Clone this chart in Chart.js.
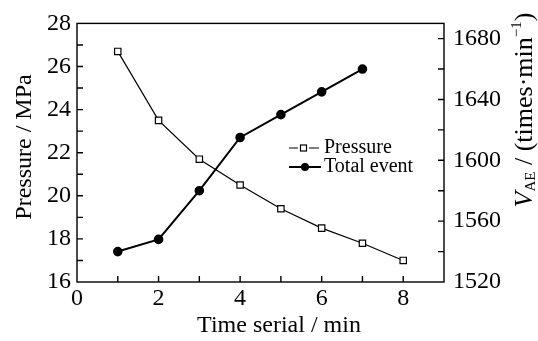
<!DOCTYPE html>
<html>
<head>
  <title>Pressure and total event</title>
  <script src="https://cdn.jsdelivr.net/npm/chart.js"></script>
  <style>
    body { margin: 0; background: white; }
    #wrap { width: 538px; height: 341px; }
  </style>
</head>
<body>
  <div id="wrap"><canvas id="chart" width="538" height="341"></canvas></div>
  <script>
    // values
    const pressureTime = [1, 2, 3, 4, 5, 6, 7, 8];
    const pressure = [26.7, 23.5, 21.7, 20.5, 19.4, 18.5, 17.8, 17.0];
    const eventTime = [1, 2, 3, 4, 5, 6, 7];
    const totalEvent = [1540, 1548, 1580, 1615, 1630, 1645, 1660];

    const xTickLabels = [0, 2, 4, 6, 8];
    const pressureTickLabels = [16, 18, 20, 22, 24, 26, 28];
    const eventTickLabels = [1520, 1560, 1600, 1640, 1680];

    const serif = "'Liberation Serif', 'Times New Roman', serif";

    // frame, inward ticks, axis titles and legend
    const axisExtras = {
      id: 'axisExtras',
      afterDraw(chart) {
        const ctx = chart.ctx;
        const a = chart.chartArea;
        const { x, y, y1 } = chart.scales;
        ctx.save();
        ctx.strokeStyle = '#000';
        ctx.lineWidth = 1.4;
        ctx.strokeRect(a.left, a.top, a.right - a.left, a.bottom - a.top);

        ctx.beginPath();
        x.ticks.forEach(t => {
          if (t.value <= 0 || t.value >= 9) return;
          const px = x.getPixelForValue(t.value);
          ctx.moveTo(px, a.bottom);
          ctx.lineTo(px, a.bottom - 6);
        });
        y.ticks.forEach(t => {
          if (t.value <= 16 || t.value >= 28) return;
          const py = y.getPixelForValue(t.value);
          ctx.moveTo(a.left, py);
          ctx.lineTo(a.left + 6, py);
        });
        y1.ticks.forEach(t => {
          if (t.value <= 1520 || t.value % 20 !== 0) return;
          const py = y1.getPixelForValue(t.value);
          ctx.moveTo(a.right, py);
          ctx.lineTo(a.right - 6, py);
        });
        ctx.stroke();

        ctx.fillStyle = '#000';
        ctx.textBaseline = 'middle';

        // bottom title
        ctx.font = '24px ' + serif;
        ctx.textAlign = 'center';
        ctx.fillText('Time serial / min', 279, 326);

        // left title
        ctx.save();
        ctx.translate(25, 147);
        ctx.rotate(-Math.PI / 2);
        ctx.fillText('Pressure / MPa', 0, 0);
        ctx.restore();

        // right title with subscript and superscript
        const parts = [
          { t: 'V', f: 'italic 26px ' + serif, dy: 0 },
          { t: 'AE', f: '15px ' + serif, dy: 6 },
          { t: ' / (times\u00b7min', f: '26px ' + serif, dy: 0 },
          { t: '\u22121', f: '15px ' + serif, dy: -8 },
          { t: ')', f: '26px ' + serif, dy: 0 }
        ];
        let total = 0;
        parts.forEach(p => { ctx.font = p.f; p.w = ctx.measureText(p.t).width; total += p.w; });
        ctx.save();
        ctx.translate(525, 110);
        ctx.rotate(-Math.PI / 2);
        ctx.textAlign = 'left';
        let cx = -total / 2;
        parts.forEach(p => {
          ctx.font = p.f;
          ctx.fillText(p.t, cx, p.dy);
          cx += p.w;
        });
        ctx.restore();

        // legend
        ctx.textAlign = 'left';
        ctx.font = '20px ' + serif;
        const rows = [
          { label: 'Pressure', y: 148 },
          { label: 'Total event', y: 167 }
        ];
        // pressure marker
        ctx.lineWidth = 1.2;
        ctx.beginPath();
        ctx.moveTo(289, rows[0].y); ctx.lineTo(298, rows[0].y);
        ctx.moveTo(309, rows[0].y); ctx.lineTo(319, rows[0].y);
        ctx.stroke();
        ctx.fillStyle = '#fff';
        ctx.fillRect(300.5, rows[0].y - 3, 6, 6);
        ctx.strokeRect(300.5, rows[0].y - 3, 6, 6);
        ctx.fillStyle = '#000';
        // total event marker
        ctx.lineWidth = 2;
        ctx.beginPath();
        ctx.moveTo(289, rows[1].y); ctx.lineTo(321, rows[1].y);
        ctx.stroke();
        ctx.beginPath();
        ctx.arc(305, rows[1].y, 4, 0, Math.PI * 2);
        ctx.fill();
        rows.forEach(r => ctx.fillText(r.label, 324, r.y));

        ctx.restore();
      }
    };

    const tickFont = { family: serif, size: 24 };

    new Chart(document.getElementById('chart'), {
      type: 'line',
      data: {
        datasets: [{
          label: 'Pressure',
          data: pressureTime.map((t, i) => ({ x: t, y: pressure[i] })),
          yAxisID: 'y',
          borderColor: '#000',
          borderWidth: 1.2,
          pointStyle: 'rect',
          pointRadius: 4.5,
          pointBorderWidth: 1.2,
          pointBorderColor: '#000',
          pointBackgroundColor: '#fff',
          tension: 0
        }, {
          label: 'Total event',
          data: eventTime.map((t, i) => ({ x: t, y: totalEvent[i] })),
          yAxisID: 'y1',
          borderColor: '#000',
          borderWidth: 2,
          pointStyle: 'circle',
          pointRadius: 3.8,
          pointBorderColor: '#000',
          pointBackgroundColor: '#000',
          tension: 0
        }]
      },
      options: {
        responsive: false,
        animation: false,
        layout: { padding: { top: 13, left: 0, right: 0, bottom: 0 } },
        plugins: { legend: { display: false }, tooltip: { enabled: false } },
        scales: {
          x: {
            type: 'linear',
            min: 0,
            max: 9,
            grid: { display: false, drawTicks: false, tickLength: 0 },
            border: { display: false },
            ticks: {
              stepSize: 1,
              autoSkip: false,
              maxRotation: 0,
              padding: 2,
              color: '#000',
              font: tickFont,
              callback: v => xTickLabels.includes(v) ? String(v) : ''
            },
            afterFit: s => { s.height = 59; }
          },
          y: {
            position: 'left',
            min: 16,
            max: 28,
            grid: { display: false, drawTicks: false, tickLength: 0 },
            border: { display: false },
            ticks: {
              stepSize: 1,
              autoSkip: false,
              padding: 6,
              color: '#000',
              font: tickFont,
              callback: v => pressureTickLabels.includes(v) ? String(v) : ''
            },
            afterFit: s => { s.width = 77; }
          },
          y1: {
            position: 'right',
            min: 1520,
            max: 1690,
            grid: { display: false, drawTicks: false, tickLength: 0 },
            border: { display: false },
            ticks: {
              stepSize: 20,
              includeBounds: false,
              autoSkip: false,
              padding: 9,
              color: '#000',
              font: tickFont,
              callback: v => eventTickLabels.includes(v) ? String(v) : ''
            },
            afterFit: s => { s.width = 94; }
          }
        }
      },
      plugins: [axisExtras]
    });
  </script>
</body>
</html>
